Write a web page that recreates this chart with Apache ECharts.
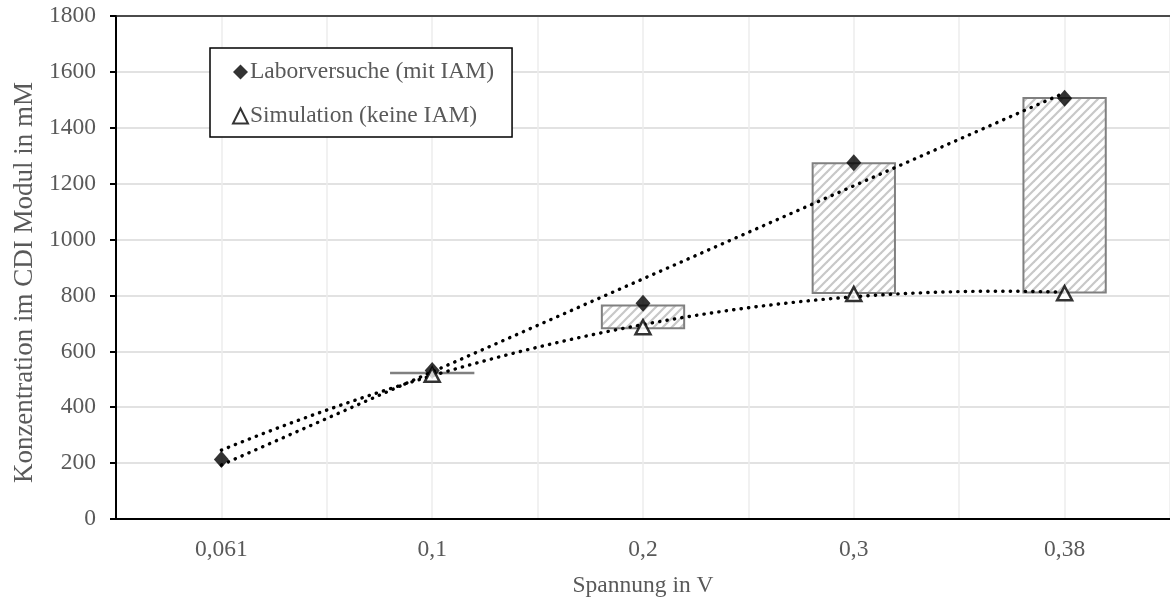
<!DOCTYPE html>
<html><head><meta charset="utf-8">
<script src="https://cdn.jsdelivr.net/npm/echarts@6/dist/echarts.min.js"></script>
<style>html,body{margin:0;padding:0;background:#fff;overflow:hidden}#c{width:1170px;height:603px}</style>
</head><body><div id="c"></div>
<script>
// ---- data ----
const categories = ['0,061', '0,1', '0,2', '0,3', '0,38'];
const labor = [213, 531, 772, 1275, 1506];          // Laborversuche (mit IAM)
const simulation = [null, 516, 686, 805, 808];      // Simulation (keine IAM)
const boxLow = [null, 518, 679, 805, 807];          // hatched range boxes (bottom)
const boxHigh = [null, 527, 768, 1277, 1510];       // hatched range boxes (top)
const yTicks = { min: 0, max: 1800, interval: 200 };
const names = ['Laborversuche (mit IAM)', 'Simulation (keine IAM)'];

// ---- least-squares trendlines (like spreadsheet trendlines) ----
function polyFit(xs, ys, deg) {
  const n = deg + 1, A = [], b = [];
  for (let r = 0; r < n; r++) {
    A.push([]); let s = 0;
    for (let c = 0; c < n; c++) { let t = 0; xs.forEach(x => t += Math.pow(x, r + c)); A[r].push(t); }
    xs.forEach((x, i) => s += Math.pow(x, r) * ys[i]); b.push(s);
  }
  for (let i = 0; i < n; i++) {
    let p = i; for (let k = i + 1; k < n; k++) if (Math.abs(A[k][i]) > Math.abs(A[p][i])) p = k;
    [A[i], A[p]] = [A[p], A[i]]; [b[i], b[p]] = [b[p], b[i]];
    for (let k = i + 1; k < n; k++) { const f = A[k][i] / A[i][i]; for (let c = i; c < n; c++) A[k][c] -= f * A[i][c]; b[k] -= f * b[i]; }
  }
  const co = new Array(n).fill(0);
  for (let i = n - 1; i >= 0; i--) { let s = b[i]; for (let c = i + 1; c < n; c++) s -= A[i][c] * co[c]; co[i] = s / A[i][i]; }
  return x => co.reduce((acc, cf, k) => acc + cf * Math.pow(x, k), 0);
}
function trend(vals, deg) {
  const xs = [], ys = [];
  vals.forEach((v, i) => { if (v != null) { xs.push(i + 1); ys.push(v); } });
  const f = polyFit(xs, ys, deg), pts = [];
  for (let x = 1; x <= categories.length + 1e-9; x += 0.05) pts.push([x - 0.5, f(x)]);
  return pts;
}
const laborTrend = trend(labor, 1);
const simTrend = trend(simulation, 2);

// ---- hatch pattern ----
const pc = document.createElement('canvas'); const P = 9; pc.width = P; pc.height = P;
const g = pc.getContext('2d'); g.fillStyle = '#fff'; g.fillRect(0, 0, P, P);
g.strokeStyle = '#c8c8c8'; g.lineWidth = 2.2;
[[0, P, P, 0], [-P, P, P, -P], [0, 2 * P, 2 * P, 0]].forEach(l => { g.beginPath(); g.moveTo(l[0], l[1]); g.lineTo(l[2], l[3]); g.stroke(); });

const FONT = "'Liberation Serif', 'Times New Roman', serif";
const TXT = '#595959';
const FS = 23.5;
const chart = echarts.init(document.getElementById('c'), null, { renderer: 'canvas' });
const dot = { color: '#000', width: 3.4, type: [0.3, 7.2], cap: 'round' };
chart.setOption({
  animation: false,
  backgroundColor: '#fff',
  grid: { left: 116, top: 16, width: 1068, height: 506 },
  legend: {
    data: names, orient: 'vertical', left: 210, top: 48,
    padding: [12, 18, 9, 22], itemGap: 20, itemWidth: 15, itemHeight: 15,
    backgroundColor: '#fff', borderColor: '#000', borderWidth: 1.5, borderRadius: 0,
    textStyle: { fontFamily: FONT, fontSize: FS, color: TXT, padding: [0, 0, 0, -3] }
  },
  xAxis: [
    { type: 'category', data: categories, boundaryGap: true,
      axisLine: { lineStyle: { color: '#000', width: 2 } },
      axisTick: { alignWithLabel: true, length: 6, lineStyle: { color: '#000', width: 2 } },
      axisLabel: { fontFamily: FONT, fontSize: FS, color: TXT, margin: 19 },
      splitLine: { show: false },
      name: 'Spannung in V', nameLocation: 'middle', nameGap: 55,
      nameTextStyle: { fontFamily: FONT, fontSize: FS, color: TXT } },
    { type: 'value', min: 0, max: categories.length, interval: 0.5, position: 'top',
      axisLine: { show: true, onZero: false, lineStyle: { color: '#1a1a1a', width: 1.5 } },
      axisTick: { show: false }, axisLabel: { show: false },
      splitLine: { show: true, lineStyle: { color: '#ececec', width: 1.5 } } }
  ],
  yAxis: {
    type: 'value', min: yTicks.min, max: yTicks.max, interval: yTicks.interval,
    axisLine: { show: true, lineStyle: { color: '#000', width: 2 } },
    axisTick: { show: true, length: 6, lineStyle: { color: '#000', width: 2 } },
    axisLabel: { fontFamily: FONT, fontSize: FS, color: TXT, margin: 20, formatter: v => String(v) },
    splitLine: { lineStyle: { color: '#d9d9d9', width: 1.5 } },
    name: 'Konzentration im CDI Modul in mM', nameLocation: 'middle', nameGap: 67,
    nameTextStyle: { fontFamily: FONT, fontSize: 27, color: TXT, padding: [0, 30, 0, 0] }
  },
  series: [
    { type: 'bar', xAxisIndex: 0, stack: 'box', silent: true, barWidth: '40%',
      itemStyle: { color: 'transparent' }, data: boxLow.map(v => v == null ? '-' : v) },
    { type: 'bar', xAxisIndex: 0, stack: 'box', silent: true, barWidth: '40%',
      itemStyle: { color: { image: pc, repeat: 'repeat' }, borderColor: '#808080', borderWidth: 2 },
      data: boxHigh.map((v, i) => v == null ? '-' : v - boxLow[i]) },
    { type: 'line', xAxisIndex: 1, showSymbol: false, silent: true, lineStyle: dot, data: laborTrend, z: 3 },
    { type: 'line', xAxisIndex: 1, showSymbol: false, silent: true, lineStyle: dot, data: simTrend, z: 3 },
    { name: names[0], type: 'scatter', xAxisIndex: 0, symbol: 'diamond', symbolSize: [15, 17],
      itemStyle: { color: '#000' }, data: labor, z: 5 },
    { name: names[1], type: 'scatter', xAxisIndex: 0, symbol: 'triangle', symbolSize: [15, 14],
      itemStyle: { color: '#fff', borderColor: '#000', borderWidth: 2.5 },
      data: simulation.map(v => v == null ? '-' : v), z: 5 }
  ]
});
</script></body></html>
